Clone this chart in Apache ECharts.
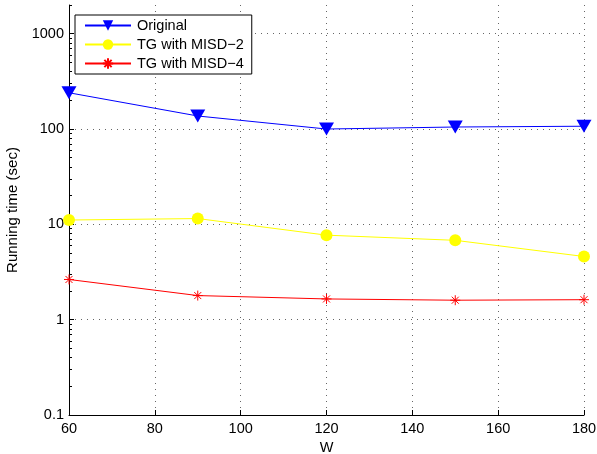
<!DOCTYPE html>
<html>
<head>
<meta charset="utf-8">
<script src="https://cdn.jsdelivr.net/npm/echarts@6/dist/echarts.min.js"></script>
<style>
html,body{margin:0;padding:0;background:#fff;}
#chart{width:597px;height:454px;}
</style>
</head>
<body>
<div id="chart"></div>
<script>
var categories = [60, 90, 120, 150, 180];
var originalValues = [240, 137, 100, 105, 107];
var misd2Values = [11.1, 11.5, 7.7, 6.8, 4.6];
var misd4Values = [2.64, 1.79, 1.65, 1.6, 1.62];
var yMajorTicks = [0.1, 1, 10, 100, 1000];
var yMinorTicks = [0.2,0.3,0.4,0.5,0.6,0.7,0.8,0.9,2,3,4,5,6,7,8,9,20,30,40,50,60,70,80,90,200,300,400,500,600,700,800,900,2000];
var xTicks = [60, 80, 100, 120, 140, 160, 180];

function pairs(xs, ys){ return xs.map(function(x,i){ return [x, ys[i]]; }); }

var FONT = '"Liberation Sans", Arial, Helvetica, sans-serif';
var chart = echarts.init(document.getElementById('chart'), null, {renderer:'canvas'});
var dotted = {color:'#666', width:1, type:[1,5]};

chart.setOption({
  animation:false,
  backgroundColor:'#fff',
  textStyle:{fontFamily:FONT},
  grid:{left:69, right:13, top:5, bottom:39, containLabel:false, outerBoundsMode:'none'},
  legend:{
    orient:'vertical', left:75, top:15,
    padding:[3,8,3,9], itemGap:4, itemWidth:46, itemHeight:13,
    backgroundColor:'#fff', borderColor:'#000', borderWidth:1, borderRadius:0,
    textStyle:{fontFamily:FONT, fontSize:14.5, color:'#000', padding:[0,0,0,1]},
    data:['Original','TG with MISD\u22122','TG with MISD\u22124']
  },
  xAxis:[{
    type:'value', min:60, max:180, interval:20,
    name:'W', nameLocation:'middle', nameGap:18,
    nameTextStyle:{fontFamily:FONT, fontSize:14.5, color:'#000'},
    axisLine:{show:true, onZero:false, lineStyle:{color:'#000', width:1}},
    axisTick:{show:true, inside:true, length:5, lineStyle:{color:'#000'}},
    axisLabel:{fontFamily:FONT, fontSize:14.5, color:'#000', margin:6},
    splitLine:{show:true, lineStyle:dotted}
  }],
  yAxis:[{
    type:'log', logBase:10, min:0.1, max:2000,
    name:'Running time (sec)', nameLocation:'middle', nameGap:43, nameRotate:90,
    nameTextStyle:{fontFamily:FONT, fontSize:15, color:'#000'},
    axisLine:{show:true, lineStyle:{color:'#000', width:1}},
    axisTick:{show:true, inside:true, length:5, customValues:yMajorTicks, lineStyle:{color:'#000'}},
    axisLabel:{fontFamily:FONT, fontSize:14.5, color:'#000', margin:5, customValues:yMajorTicks,
      formatter:function(v){ var e=Math.round(Math.log10(v)); return String(Math.pow(10,e)); }},
    splitLine:{show:true, lineStyle:dotted}
  },{
    type:'log', logBase:10, min:0.1, max:2000, position:'left',
    axisLine:{show:false},
    axisTick:{show:true, inside:true, length:3, customValues:yMinorTicks, lineStyle:{color:'#000'}},
    axisLabel:{show:false},
    splitLine:{show:false}
  }],
  series:[{
    name:'Original', type:'line', data:pairs(categories, originalValues),
    symbol:'triangle', symbolRotate:180, symbolSize:[15,13],
    lineStyle:{color:'#0000ff', width:1}, itemStyle:{color:'#0000ff'}, z:3
  },{
    name:'TG with MISD\u22122', type:'line', data:pairs(categories, misd2Values),
    symbol:'circle', symbolSize:12,
    lineStyle:{color:'#ffff00', width:1}, itemStyle:{color:'#ffff00', borderWidth:0}, z:4
  },{
    name:'TG with MISD\u22124', type:'line', data:pairs(categories, misd4Values),
    symbol:'path://M5,0L5,10M0,5L10,5M1.5,1.5L8.5,8.5M8.5,1.5L1.5,8.5', symbolSize:10,
    lineStyle:{color:'#ff0000', width:1}, itemStyle:{color:'#ff0000', borderColor:'#ff0000', borderWidth:1}, z:5
  }]
});
</script>
</body>
</html>
